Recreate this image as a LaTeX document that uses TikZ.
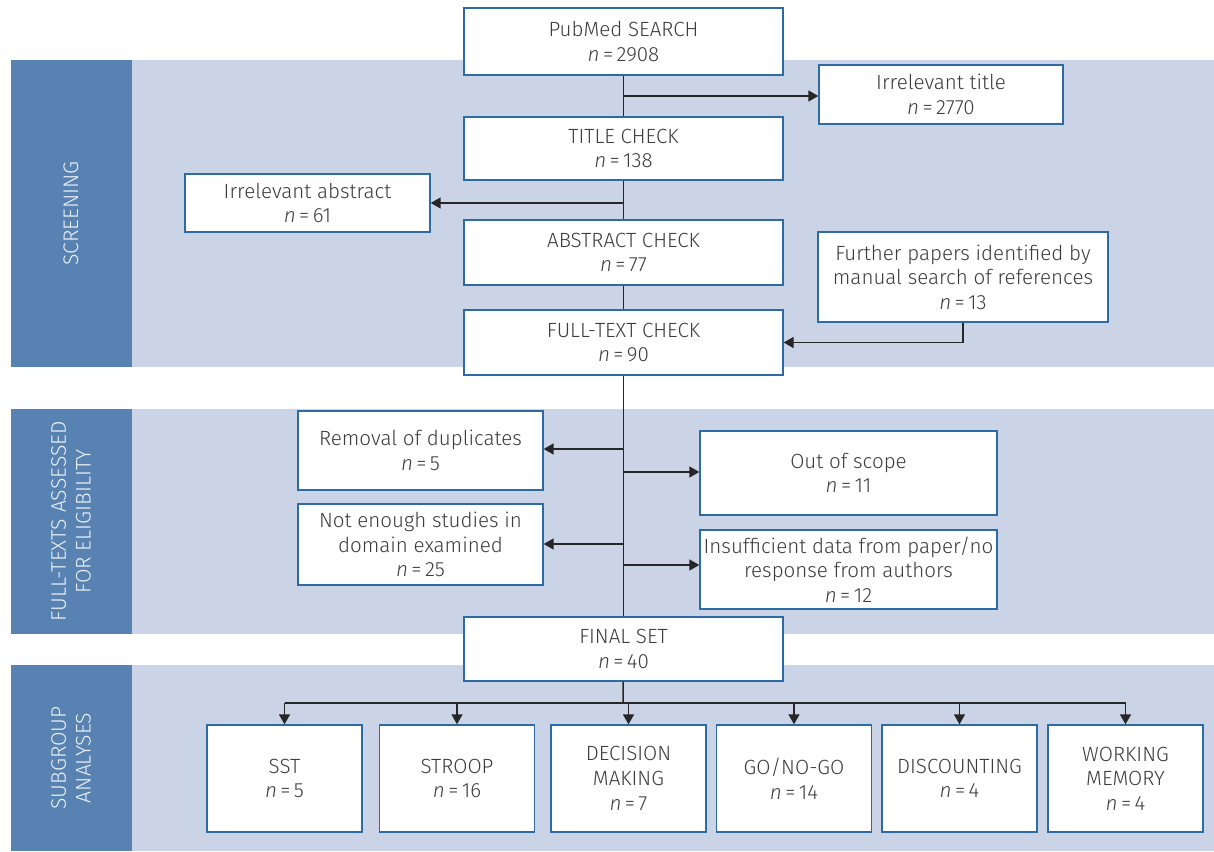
\documentclass[tikz,border=0pt]{standalone}
\usepackage{fontspec}
\setmainfont{Fira Sans}[UprightFont=* Light, ItalicFont=* Light Italic]
\usetikzlibrary{arrows.meta,positioning}
\definecolor{stripblue}{RGB}{88,130,178}
\definecolor{bandblue}{RGB}{203,212,230}
\definecolor{boxline}{RGB}{45,107,165}
\definecolor{textgray}{RGB}{60,60,60}
\newcommand{\ncount}[1]{\textit{n}\,=\,#1}

\begin{document}
\begin{tikzpicture}[x=0.02cm, y=-0.02cm]
    \tikzstyle{box} = [draw=boxline, fill=white, line width=0.8pt, text=textgray, align=center, font=\fontsize{11.7}{14}\selectfont, inner sep=0pt];
    \tikzstyle{mainbox} = [box, minimum width=6.38cm, minimum height=1.3cm];
    \tikzstyle{subbox} = [box, minimum width=3.1cm, minimum height=2.14cm];
    \tikzstyle{sidelabel} = [rotate=90, text=white!88!stripblue, align=center, font=\fontsize{12}{14}\selectfont];
    \tikzstyle{line} = [line width=0.85pt, draw=black!85];
    \tikzstyle{arr} = [line, -{Triangle[length=2mm,width=2.2mm]}];

    \useasboundingbox (0,0) rectangle (1214,852);
    \fill[white] (0,0) rectangle (1214,852);

    % bands
    \fill[bandblue] (132,60) rectangle (1214,367);
    \fill[stripblue] (11,60) rectangle (132,367);
    \fill[bandblue] (132,409) rectangle (1214,634);
    \fill[stripblue] (11,409) rectangle (132,634);
    \fill[bandblue] (132,665) rectangle (1214,851);
    \fill[stripblue] (11,665) rectangle (132,851);

    \node[sidelabel] (screen) at (71,213.5) {SCREENING};
    \node[sidelabel] (elig) at (71,521.5) {FULL-TEXTS ASSESSED\\FOR ELIGIBILITY};
    \node[sidelabel] (subgr) at (71,758) {SUBGROUP\\ANALYSES};

    % main column
    \node[mainbox, minimum height=1.34cm] (pubmed) at (623.5,41.5) {PubMed SEARCH\\\ncount{2908}};
    \node[mainbox, minimum height=1.26cm] (title) at (623.5,148.5) {TITLE CHECK\\\ncount{138}};
    \node[mainbox] (abstract) at (623.5,252.5) {ABSTRACT CHECK\\\ncount{77}};
    \node[mainbox] (fulltext) at (623.5,342.5) {FULL-TEXT CHECK\\\ncount{90}};
    \node[mainbox, minimum height=1.28cm] (final) at (623.5,649) {FINAL SET\\\ncount{40}};

    % excluded / added
    \node[box, minimum width=4.88cm, minimum height=1.18cm] (irrtitle) at (941,94.5) {Irrelevant title\\\ncount{2770}};
    \node[box, minimum width=4.9cm, minimum height=1.16cm] (irrabs) at (307.5,203) {Irrelevant abstract\\\ncount{61}};
    \node[box, minimum width=5.8cm, minimum height=1.8cm] (further) at (963,277) {Further papers identified by\\manual search of references\\\ncount{13}};
    \node[box, minimum width=4.9cm, minimum height=1.58cm] (dupl) at (420.5,450.5) {Removal of duplicates\\\ncount{5}};
    \node[box, minimum width=5.94cm, minimum height=1.68cm] (scope) at (848.5,473) {Out of scope\\\ncount{11}};
    \node[box, minimum width=4.9cm, minimum height=1.62cm] (domain) at (420.5,544.5) {Not enough studies in\\domain examined\\\ncount{25}};
    \node[box, minimum width=5.94cm, minimum height=1.58cm] (nodata) at (848.5,569.5) {Insufficient data from paper/no\\response from authors\\\ncount{12}};

    % subgroups
    \node[subbox] (sst) at (284.5,778.5) {SST\\\ncount{5}};
    \node[subbox] (stroop) at (457,778.5) {STROOP\\\ncount{16}};
    \node[subbox] (decision) at (628.5,778.5) {DECISION\\MAKING\\\ncount{7}};
    \node[subbox] (gonogo) at (794,778.5) {GO/NO-GO\\\ncount{14}};
    \node[subbox] (discount) at (959.5,778.5) {DISCOUNTING\\\ncount{4}};
    \node[subbox] (working) at (1125.5,778.5) {WORKING\\MEMORY\\\ncount{4}};

    % trunk
    \coordinate (t1) at (623,96);
    \coordinate (t2) at (623,203);
    \coordinate (t3) at (623,449);
    \coordinate (t4) at (623,472);
    \coordinate (t5) at (623,544);
    \coordinate (t6) at (623,565);
    \coordinate (bus) at (623,703);

    \draw[line] (pubmed) -- (title);
    \draw[line] (title) -- (abstract);
    \draw[line] (abstract) -- (fulltext);
    \draw[line] (fulltext) -- (final);
    \draw[line] (final) -- (bus);
    \draw[line] (bus -| sst) -- (bus -| working);

    \draw[arr] (t1) -- (t1 -| irrtitle.west);
    \draw[arr] (t2) -- (t2 -| irrabs.east);
    \draw[arr] (further.south) |- (fulltext.east);
    \draw[arr] (t3) -- (t3 -| dupl.east);
    \draw[arr] (t4) -- (t4 -| scope.west);
    \draw[arr] (t5) -- (t5 -| domain.east);
    \draw[arr] (t6) -- (t6 -| nodata.west);

    \draw[arr] (bus -| sst) -- (sst);
    \draw[arr] (bus -| stroop) -- (stroop);
    \draw[arr] (bus -| decision) -- (decision);
    \draw[arr] (bus -| gonogo) -- (gonogo);
    \draw[arr] (bus -| discount) -- (discount);
    \draw[arr] (bus -| working) -- (working);
\end{tikzpicture}
\end{document}
